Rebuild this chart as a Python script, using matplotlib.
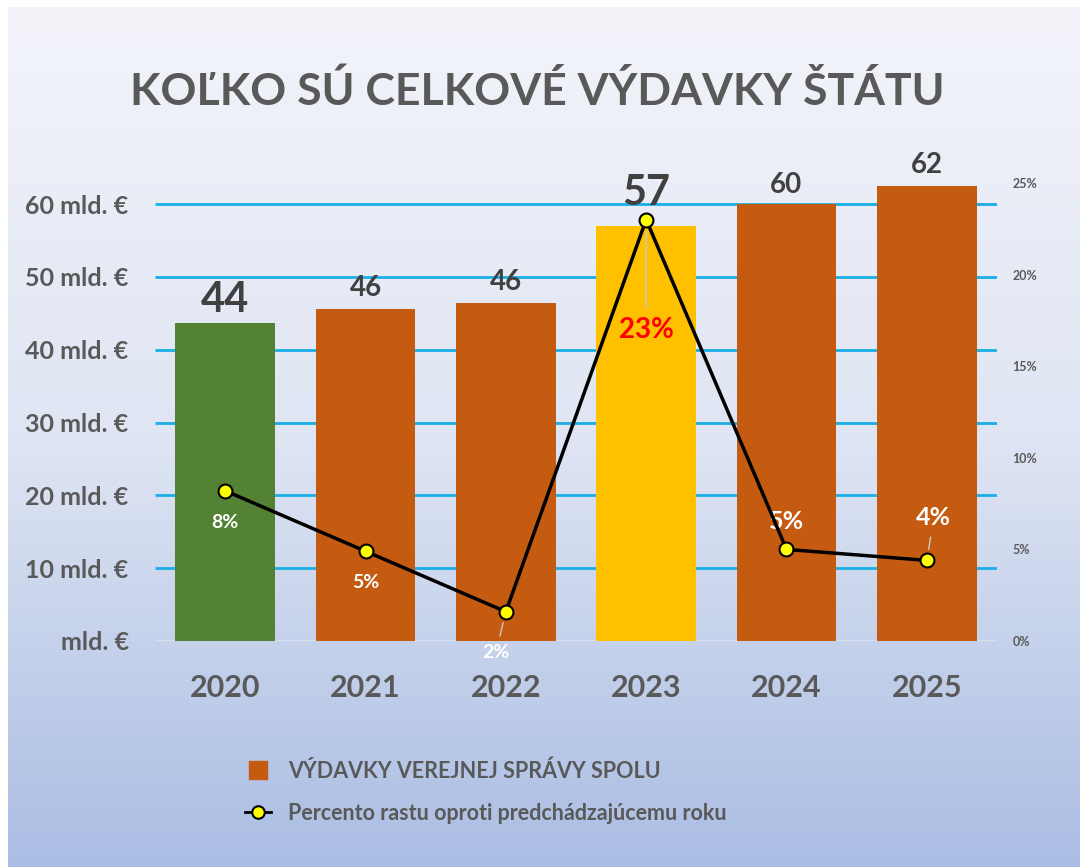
import numpy as np
import matplotlib.pyplot as plt
from matplotlib.lines import Line2D
from matplotlib.colors import LinearSegmentedColormap

plt.rcParams['font.family'] = ['Lato', 'DejaVu Sans']

# data
years = ['2020', '2021', '2022', '2023', '2024', '2025']
spending = [43.7, 45.6, 46.4, 57.0, 60.0, 62.5]          # mld. EUR
spending_labels = ['44', '46', '46', '57', '60', '62']
growth = [8.2, 4.9, 1.6, 23.0, 5.0, 4.4]                 # %
growth_labels = ['8%', '5%', '2%', '23%', '5%', '4%']
left_ticks = [0, 10, 20, 30, 40, 50, 60]
left_ticklabels = ['mld. €', '10 mld. €', '20 mld. €', '30 mld. €',
                   '40 mld. €', '50 mld. €', '60 mld. €']
right_ticks = [0, 5, 10, 15, 20, 25]
right_ticklabels = ['0%', '5%', '10%', '15%', '20%', '25%']

# styles
bar_colors = ['#548235', '#C55A11', '#C55A11', '#FFC000', '#C55A11', '#C55A11']
val_sizes = [30, 20, 20, 30, 20, 20]
val_offsets = [11, 13, 13, 21, 11, 13]              # px above bar top
pct_offsets = [(0, -32), (0, -31), (-10, -41), (0, -110), (0, 28), (7, 43)]
pct_colors = ['white', 'white', 'white', '#FF0000', 'white', 'white']
pct_sizes = [14, 14, 14, 20, 18, 18]
pct_leader = [False, False, True, True, False, True]
text_grey = '#595959'

fig = plt.figure(figsize=(10.8, 8.67), dpi=100)

# gradient background
bg = fig.add_axes([8 / 1080, 0, 1 - 8 / 1080, 1 - 7 / 867], zorder=-10)
cmap = LinearSegmentedColormap.from_list('bg', ['#f3f4fa', '#dfe5f3', '#aabde3'])
bg.imshow(np.linspace(0, 1, 256).reshape(-1, 1), aspect='auto', cmap=cmap,
          extent=[0, 1, 0, 1])
bg.axis('off')

ax = fig.add_axes([155 / 1080, 1 - 641 / 867, 842 / 1080, 458 / 867])
ax.patch.set_alpha(0)
x = np.arange(len(years))

ax.hlines(left_ticks[1:], -0.5, 5.5, color='#1AAEE6', lw=2, zorder=0)
ax.hlines(0, -0.5, 5.5, color='#dde4f2', lw=1.2, zorder=0)
ax.bar(x, spending, width=0.71, color=bar_colors, zorder=2)

for i in range(len(years)):
    ax.annotate(spending_labels[i], xy=(x[i], spending[i]),
                xytext=(0, val_offsets[i]), textcoords='offset pixels',
                ha='center', va='baseline', fontsize=val_sizes[i],
                fontweight='bold', color='#404040')

ax.set_xlim(-0.5, 5.5)
ax.set_ylim(0, 62.9)
ax.set_yticks(left_ticks, left_ticklabels)
ax.set_xticks(x, years)
ax.tick_params(axis='y', length=0, pad=19, labelsize=18, labelcolor=text_grey)
ax.tick_params(axis='x', length=0, pad=24, labelsize=22, labelcolor=text_grey)
for lbl in ax.get_xticklabels() + ax.get_yticklabels():
    lbl.set_fontweight('bold')
for s in ax.spines.values():
    s.set_visible(False)

# growth line on secondary axis
ax2 = ax.twinx()
ax2.plot(x, growth, color='black', lw=2.5, marker='o', ms=10,
         mfc='#FFFF00', mec='black', mew=1.5, zorder=5)
ax2.set_ylim(0, 25)
ax2.set_yticks(right_ticks, right_ticklabels)
ax2.tick_params(axis='y', length=0, pad=11, labelsize=9, labelcolor=text_grey)
for lbl in ax2.get_yticklabels():
    lbl.set_fontweight('bold')
for s in ax2.spines.values():
    s.set_visible(False)

for i in range(len(years)):
    arrow = None
    if pct_leader[i]:
        arrow = dict(arrowstyle='-', color='#c8c8c8', lw=1, shrinkA=4, shrinkB=8)
    ax2.annotate(growth_labels[i], xy=(x[i], growth[i]),
                 xytext=pct_offsets[i], textcoords='offset pixels',
                 ha='center', va='center', fontsize=pct_sizes[i],
                 fontweight='bold', color=pct_colors[i], arrowprops=arrow,
                 zorder=4)

fig.text(537 / 1080, 1 - 105 / 867, 'KOĽKO SÚ CELKOVÉ VÝDAVKY ŠTÁTU',
         ha='center', va='baseline', fontsize=32, fontweight='bold',
         color=text_grey)

handles = [Line2D([], [], marker='s', color='#C55A11', ls='none', ms=13),
           Line2D([], [], marker='o', mfc='#FFFF00', mec='black', mew=1.5,
                  color='black', lw=2, ms=9)]
fig.legend(handles, ['VÝDAVKY VEREJNEJ SPRÁVY SPOLU',
                     'Percento rastu oproti predchádzajúcemu roku'],
           loc='upper left', bbox_to_anchor=(245 / 1080, 1 - 760 / 867),
           frameon=False, borderpad=0, borderaxespad=0, handlelength=1.2,
           handletextpad=0.8, labelspacing=1.0, labelcolor=text_grey,
           prop={'weight': 'bold', 'size': 15.5})

fig.savefig('out.png', dpi=100)
